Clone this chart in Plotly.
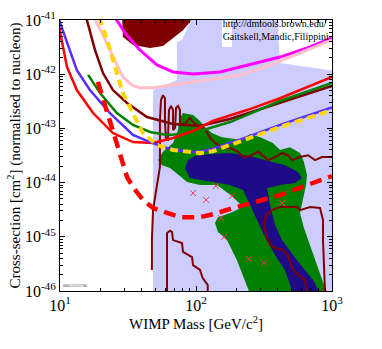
import plotly.graph_objects as go

# ---------------- data (WIMP mass in GeV/c^2, cross-section in cm^2) ----------------
lav_mass = [48.3, 48.3, 72.4, 72.4, 78.9, 95.1, 155, 155, 184, 184, 394, 415, 1200, 1200]
lav_sig = [8e-47, 5.1e-43, 7.8e-43, 3.93e-42, 4.28e-42, 1.2e-41, 1.2e-41, 3.18e-42, 3.18e-42, 1.2e-41,
           1.2e-41, 1.61e-42, 1.10e-42, 8e-47]

blob_mass = [28.6, 29.0, 34.4, 45.9, 57.2, 67.8, 80.2, 90.3, 95.1]
blob_sig = [1.2e-41, 4.85e-42, 3.46e-42, 3.04e-42, 3.31e-42, 4.66e-42, 6.5e-42, 9.2e-42, 1.2e-41]

green_mass = [52.6, 57.2, 67.8, 73.8, 75.0, 80.2, 95.1, 107, 116, 131, 155, 184, 218, 249, 296, 368, 415,
              491, 582, 622, 655, 644, 612, 582, 622, 689, 762, 844, 919, 249, 229, 200, 169, 145, 138,
              145, 178, 222, 187, 143, 107, 85.9, 76.2, 64.4, 56.2]
green_sig = [2.6e-44, 3.7e-44, 5.4e-44, 9.3e-44, 1.43e-43, 1.92e-43, 1.77e-43, 1.37e-43, 1.06e-43, 8.2e-44,
             6.9e-44, 6.4e-44, 6.1e-44, 7.9e-44, 6.9e-44, 5.4e-44, 4.0e-44, 4.5e-44, 3.5e-44, 2.4e-44,
             1.38e-44, 9.0e-45, 4.8e-45, 2.75e-45, 1.45e-45, 7.1e-46, 3.4e-46, 1.74e-46, 9e-47, 9e-47,
             1.6e-46, 3.7e-46, 8.7e-46, 1.23e-45, 1.8e-45, 2.3e-45, 2.75e-45, 3.55e-45, 5.4e-45, 9.0e-45,
             9.0e-45, 1.03e-44, 1.32e-44, 1.86e-44, 2.1e-44]

navy_mass = [83.0, 87.4, 98.4, 127, 178, 249, 321, 451, 562, 601, 535, 415, 333, 350, 381, 429, 553, 725,
             816, 516, 451, 381, 321, 281, 249, 222, 178, 133, 107, 90.3]
navy_sig = [1.86e-44, 2.6e-44, 3.1e-44, 3.37e-44, 3.5e-44, 3.1e-44, 2.6e-44, 2.1e-44, 1.57e-44, 1.22e-44,
            9.8e-45, 9.0e-45, 7.9e-45, 3.9e-45, 1.65e-45, 8.7e-46, 3.7e-46, 1.6e-46, 9e-47, 9e-47,
            2.44e-46, 4.6e-46, 9.9e-46, 2.04e-45, 4.2e-45, 7.3e-45, 9.0e-45, 1.03e-44, 1.12e-44, 1.22e-44]

c1_mass = [47.4, 47.4, 48.3, 50.0, 51.6, 54.3, 54.3, 54.3, 55.3, 57.2, 59.1, 59.1, 60.1, 62.2, 63.3, 65.5,
           67.8, 67.8, 70.2, 71.3, 73.8, 76.2, 76.2, 83.0, 90.3, 95.1, 101.6, 112.5, 120, 127, 138, 155,
           178, 204, 222, 249, 286, 306, 338, 381, 429, 474, 508, 582, 667, 750, 844, 1020]
c1_sig = [2.44e-46, 8.7e-46, 3.1e-45, 5.4e-45, 9.0e-45, 1.94e-44, 6.1e-44, 1.43e-43, 3.34e-43, 4.1e-43,
          3.6e-43, 1.43e-43, 6.1e-44, 6.1e-44, 2.18e-43, 2.6e-43, 2.18e-43, 9.3e-44, 1.02e-43, 2.38e-43,
          2.6e-43, 2.18e-43, 1.16e-43, 1.21e-43, 1.56e-43, 1.31e-43, 1.16e-43, 1.02e-43, 8.6e-44, 6.65e-44,
          5.4e-44, 4.5e-44, 4.35e-44, 3.7e-44, 2.96e-44, 3.1e-44, 3.7e-44, 3.2e-44, 2.6e-44, 2.96e-44,
          3.5e-44, 3.2e-44, 2.6e-44, 2.96e-44, 3.2e-44, 2.6e-44, 2.96e-44, 2.96e-44]

c2_mass = [61.2, 61.2, 64.4, 66.6, 67.8, 78.9, 80.2, 93.5, 95.1, 107, 112, 122, 122]
c2_sig = [9e-47, 1.17e-45, 1.3e-45, 1.23e-45, 8.7e-46, 7.7e-46, 5.25e-46, 4.2e-46, 3.0e-46, 2.44e-46,
          1.74e-46, 1.29e-46, 9e-47]

c3_mass = [655, 633, 562, 508, 474, 436, 381, 350, 327, 316, 327, 362, 415, 553, 582, 689, 816, 859, 859,
           873, 889]
c3_sig = [9e-47, 1.6e-46, 1.97e-46, 2.65e-46, 4.6e-46, 5.7e-46, 6.2e-46, 7.1e-46, 1.08e-45, 1.65e-45,
          2.5e-45, 3.1e-45, 3.55e-45, 3.55e-45, 3.1e-45, 3.55e-45, 3.4e-45, 2.04e-45, 8.7e-46, 3.7e-46,
          9e-47]

magenta_mass = [25.5, 30.1, 38.7, 51.6, 67.8, 95.1, 150, 211, 415, 689, 1000]
magenta_sig = [1.1e-41, 5.75e-42, 2.79e-42, 1.48e-42, 1.10e-42, 1.01e-42, 1.10e-42, 1.36e-42, 2.07e-42,
               3.18e-42, 4.66e-42]

pink_mass = [17.8, 20.7, 23.3, 26.2, 29.0, 33.8, 38.7, 48.3, 67.8, 120, 211, 350, 582, 1000]
pink_sig = [1.1e-41, 5.3e-42, 2.79e-42, 1.48e-42, 8.9e-43, 6.3e-43, 5.6e-43, 5.6e-43, 6.3e-43, 7.8e-43,
            9.7e-43, 1.48e-42, 2.46e-42, 4.28e-42]

maroon_mass = [15.6, 18.1, 20.7, 24.5, 31.1, 43.6, 67.8, 107, 178, 415, 1000]
maroon_sig = [1.1e-41, 2.79e-42, 1.05e-42, 5.1e-43, 2.94e-43, 1.62e-43, 1.21e-43, 1.11e-43, 1.49e-43,
              2.94e-43, 6.05e-43]

red_mass = [9.9, 11.25, 13.3, 17.5, 24.5, 34.4, 48.3, 67.8, 95.1, 133, 237, 415, 1000]
red_sig = [7.0e-42, 1.36e-42, 5.1e-43, 1.92e-43, 8.2e-44, 5.6e-44, 5.4e-44, 6.65e-44, 8.95e-44, 1.37e-43,
           2.18e-43, 3.6e-43, 8.9e-43]

greenline_mass = [16.1, 19.7, 26.2, 34.4, 45.9, 61.2, 80.2, 107, 178, 415, 1000]
greenline_sig = [9.7e-43, 4.5e-43, 1.92e-43, 1.16e-43, 8.6e-44, 7.55e-44, 7.9e-44, 8.95e-44, 1.31e-43,
                 3.2e-43, 6.9e-43]

blue_mass = [9.85, 11.25, 13.3, 16.6, 23.3, 34.4, 45.9, 61.2, 85.9, 107, 133, 237, 415, 1000]
blue_sig = [1e-41, 3.77e-42, 1.19e-42, 5.1e-43, 1.92e-43, 7.55e-44, 5.6e-44, 4.35e-44, 3.7e-44, 3.7e-44,
            4.2e-44, 6.9e-44, 1.16e-43, 2.45e-43]

yellow_mass = [19.4, 22.2, 25.4, 29.0, 34.4, 40.7, 51.6, 67.8, 107, 133, 237, 415, 1000]
yellow_sig = [1.1e-41, 4.28e-42, 1.36e-42, 4.5e-43, 1.92e-43, 8.2e-44, 4.95e-44, 4.0e-44, 3.5e-44, 3.8e-44,
              6.4e-44, 1.06e-43, 2.18e-43]

reddash_mass = [19.0, 22.2, 25.4, 31.1, 34.4, 40.7, 48.3, 61.2, 76.2, 107, 133, 178, 237, 415, 1000]
reddash_sig = [7.2e-43, 1.92e-43, 6.1e-44, 1.27e-44, 8.3e-45, 4.8e-45, 3.4e-45, 2.75e-45, 2.3e-45, 2.3e-45,
               2.6e-45, 3.26e-45, 4.0e-45, 5.9e-45, 1.32e-44]

pts_mass = [95.1, 118.6, 140, 184, 429, 153, 161, 245, 316]
pts_sig = [6.4e-45, 4.8e-45, 8.65e-45, 5.7e-45, 4.2e-45, 2.2e-45, 9.9e-46, 3.9e-46, 3.3e-46]

x_tickvals = [10, 100, 1000]
x_ticktext = ["10<sup>1</sup>", "10<sup>2</sup>", "10<sup>3</sup>"]
y_tickvals = [1e-46, 1e-45, 1e-44, 1e-43, 1e-42, 1e-41]
y_ticktext = ["10<sup>-46</sup>", "10<sup>-45</sup>", "10<sup>-44</sup>", "10<sup>-43</sup>",
              "10<sup>-42</sup>", "10<sup>-41</sup>"]

credit_lines = ["http://dmtools.brown.edu/", "Gaitskell,Mandic,Filippini"]
credit_mass = [157, 157]
credit_sig = [8.4e-42, 4.85e-42]

# ---------------- figure ----------------
SERIF = "Liberation Serif, Times New Roman, serif"
fig = go.Figure()


def area(xs, ys, color):
    fig.add_trace(go.Scatter(x=xs, y=ys, mode="lines", fill="toself", fillcolor=color,
                             line=dict(width=0, color=color), hoverinfo="skip", showlegend=False))


def curve(xs, ys, color, width, dash="solid"):
    fig.add_trace(go.Scatter(x=xs, y=ys, mode="lines", line=dict(color=color, width=width, dash=dash),
                             hoverinfo="skip", showlegend=False))


area(lav_mass, lav_sig, "#ccccff")
area(blob_mass, blob_sig, "#800000")
area(green_mass, green_sig, "#008000")
area(navy_mass, navy_sig, "#1f0a88")

curve(c1_mass, c1_sig, "#800000", 2)
curve(c2_mass, c2_sig, "#800000", 2)
curve(c3_mass, c3_sig, "#800000", 2)

curve(magenta_mass, magenta_sig, "#ff00ff", 3)
curve(pink_mass, pink_sig, "#ffc0cb", 3)
curve(maroon_mass, maroon_sig, "#800000", 2.5)
curve(greenline_mass, greenline_sig, "#008000", 2.5)
curve(red_mass, red_sig, "#ff0000", 2.5)
curve(blue_mass, blue_sig, "#5a2dff", 2.5)
curve(yellow_mass, yellow_sig, "#ffd700", 4, "8px,5px")
curve(reddash_mass, reddash_sig, "#ff0000", 4.5, "12px,7px")

fig.add_trace(go.Scatter(x=pts_mass, y=pts_sig, mode="markers",
                         marker=dict(symbol="x-thin", size=6, line=dict(color="#f03a50", width=1)),
                         hoverinfo="skip", showlegend=False))

fig.add_trace(go.Scatter(x=credit_mass, y=credit_sig, mode="text", text=credit_lines,
                         textposition="middle right", cliponaxis=True,
                         textfont=dict(family=SERIF, size=10, color="black"),
                         hoverinfo="skip", showlegend=False))

fig.add_annotation(x=0.005, y=0.005, xref="paper", yref="paper", xanchor="left", yanchor="bottom",
                   text="000515231700", showarrow=False, font=dict(family=SERIF, size=4, color="#333"))

axis_common = dict(type="log", showgrid=False, zeroline=False, showline=True, linecolor="black",
                   linewidth=1, mirror="allticks", ticks="inside", ticklen=5, tickcolor="black",
                   tickmode="array", tickfont=dict(family=SERIF, size=16, color="black"),
                   minor=dict(ticks="inside", ticklen=3, tickcolor="black", dtick="D1", showgrid=False))

fig.update_xaxes(range=[1, 3], tickvals=x_tickvals, ticktext=x_ticktext,
                 title=dict(text="WIMP Mass [GeV/c<sup>2</sup>]", font=dict(family=SERIF, size=15, color="black"),
                            standoff=4),
                 **axis_common)
fig.update_yaxes(range=[-46, -41], tickvals=y_tickvals, ticktext=y_ticktext,
                 title=dict(text="Cross-section [cm<sup>2</sup>] (normalised to nucleon)",
                            font=dict(family=SERIF, size=15, color="black"), standoff=0),
                 **axis_common)

fig.update_layout(width=382, height=349, margin=dict(l=60, r=50, t=20, b=58, autoexpand=False),
                  plot_bgcolor="white", paper_bgcolor="white", showlegend=False)

fig.write_html("out.html", config={"displayModeBar": False},
               post_script="document.body.style.margin='0';document.body.style.padding='0';")
